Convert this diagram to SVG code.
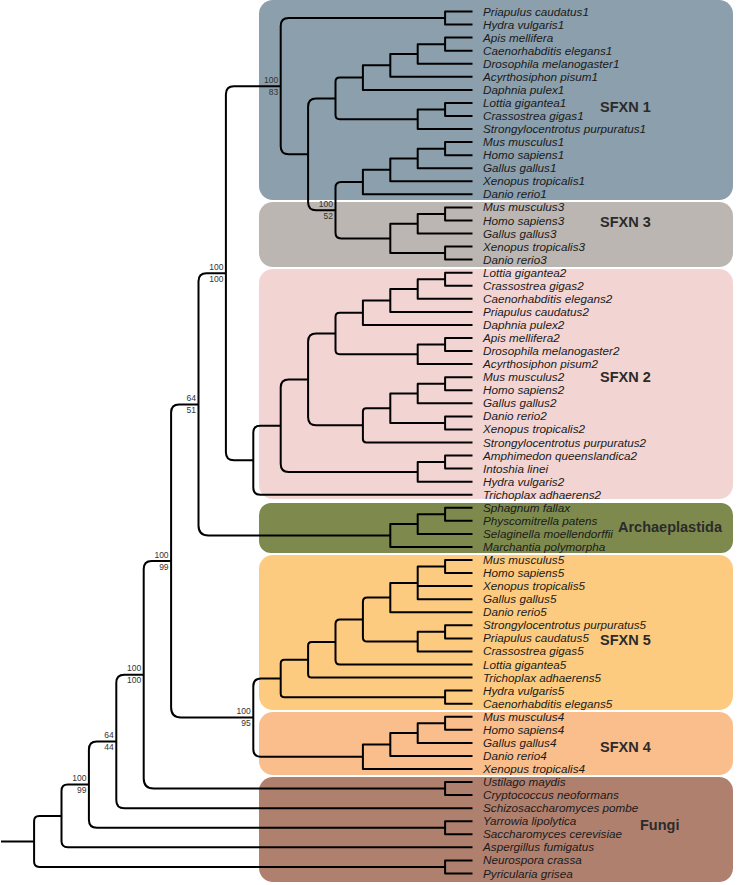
<svg xmlns="http://www.w3.org/2000/svg" width="742" height="885" viewBox="0 0 742 885">
<style>
.bx{stroke:none}
.br{fill:none;stroke:#000;stroke-width:2;stroke-linejoin:round}
.lf{font-family:"Liberation Sans",Arial,sans-serif;font-style:italic;font-size:11.7px;fill:#1a1a1a}
.bs{font-family:"Liberation Sans",Arial,sans-serif;font-size:8.5px;fill:#333;text-anchor:end}
.gl{font-family:"Liberation Sans",Arial,sans-serif;font-weight:bold;font-size:14.5px;fill:#2b2b2b}
</style>
<rect width="742" height="885" fill="#fff"/>
<g id="SFXN1">
<rect class="bx" x="259" y="0" width="474" height="200" rx="14" fill="#8b9fac"/>
<text class="gl" x="600" y="112">SFXN 1</text>
<text class="lf" x="483" y="15.5">Priapulus caudatus1</text>
<text class="lf" x="483" y="28.6">Hydra vulgaris1</text>
<text class="lf" x="483" y="41.6">Apis mellifera</text>
<text class="lf" x="483" y="54.7">Caenorhabditis elegans1</text>
<text class="lf" x="483" y="67.7">Drosophila melanogaster1</text>
<text class="lf" x="483" y="80.8">Acyrthosiphon pisum1</text>
<text class="lf" x="483" y="93.9">Daphnia pulex1</text>
<text class="lf" x="483" y="106.9">Lottia gigantea1</text>
<text class="lf" x="483" y="120">Crassostrea gigas1</text>
<text class="lf" x="483" y="133">Strongylocentrotus purpuratus1</text>
<text class="lf" x="483" y="146.1">Mus musculus1</text>
<text class="lf" x="483" y="159.2">Homo sapiens1</text>
<text class="lf" x="483" y="172.2">Gallus gallus1</text>
<text class="lf" x="483" y="185.3">Xenopus tropicalis1</text>
<text class="lf" x="483" y="198.3">Danio rerio1</text>
</g>
<g id="SFXN3">
<rect class="bx" x="259" y="202" width="474" height="65" rx="14" fill="#bcb6b2"/>
<text class="gl" x="600" y="227">SFXN 3</text>
<text class="lf" x="483" y="211.4">Mus musculus3</text>
<text class="lf" x="483" y="224.5">Homo sapiens3</text>
<text class="lf" x="483" y="237.5">Gallus gallus3</text>
<text class="lf" x="483" y="250.6">Xenopus tropicalis3</text>
<text class="lf" x="483" y="263.6">Danio rerio3</text>
</g>
<g id="SFXN2">
<rect class="bx" x="259" y="269" width="474" height="230" rx="14" fill="#f2d5d3"/>
<text class="gl" x="600" y="382">SFXN 2</text>
<text class="lf" x="483" y="276.7">Lottia gigantea2</text>
<text class="lf" x="483" y="289.8">Crassostrea gigas2</text>
<text class="lf" x="483" y="302.8">Caenorhabditis elegans2</text>
<text class="lf" x="483" y="315.9">Priapulus caudatus2</text>
<text class="lf" x="483" y="328.9">Daphnia pulex2</text>
<text class="lf" x="483" y="342">Apis mellifera2</text>
<text class="lf" x="483" y="355.1">Drosophila melanogaster2</text>
<text class="lf" x="483" y="368.1">Acyrthosiphon pisum2</text>
<text class="lf" x="483" y="381.2">Mus musculus2</text>
<text class="lf" x="483" y="394.2">Homo sapiens2</text>
<text class="lf" x="483" y="407.3">Gallus gallus2</text>
<text class="lf" x="483" y="420.4">Danio rerio2</text>
<text class="lf" x="483" y="433.4">Xenopus tropicalis2</text>
<text class="lf" x="483" y="446.5">Strongylocentrotus purpuratus2</text>
<text class="lf" x="483" y="459.5">Amphimedon queenslandica2</text>
<text class="lf" x="483" y="472.6">Intoshia linei</text>
<text class="lf" x="483" y="485.7">Hydra vulgaris2</text>
<text class="lf" x="483" y="498.7">Trichoplax adhaerens2</text>
</g>
<g id="Archaeplastida">
<rect class="bx" x="259" y="503" width="474" height="50" rx="12" fill="#7e8a4d"/>
<text class="gl" x="618" y="532">Archaeplastida</text>
<text class="lf" x="483" y="511.8">Sphagnum fallax</text>
<text class="lf" x="483" y="524.8">Physcomitrella patens</text>
<text class="lf" x="483" y="537.9">Selaginella moellendorffii</text>
<text class="lf" x="483" y="551">Marchantia polymorpha</text>
</g>
<g id="SFXN5">
<rect class="bx" x="259" y="555" width="474" height="155" rx="14" fill="#fdcb80"/>
<text class="gl" x="600" y="645">SFXN 5</text>
<text class="lf" x="483" y="564">Mus musculus5</text>
<text class="lf" x="483" y="577.1">Homo sapiens5</text>
<text class="lf" x="483" y="590.1">Xenopus tropicalis5</text>
<text class="lf" x="483" y="603.2">Gallus gallus5</text>
<text class="lf" x="483" y="616.3">Danio rerio5</text>
<text class="lf" x="483" y="629.3">Strongylocentrotus purpuratus5</text>
<text class="lf" x="483" y="642.4">Priapulus caudatus5</text>
<text class="lf" x="483" y="655.4">Crassostrea gigas5</text>
<text class="lf" x="483" y="668.5">Lottia gigantea5</text>
<text class="lf" x="483" y="681.6">Trichoplax adhaerens5</text>
<text class="lf" x="483" y="694.6">Hydra vulgaris5</text>
<text class="lf" x="483" y="707.7">Caenorhabditis elegans5</text>
</g>
<g id="SFXN4">
<rect class="bx" x="259" y="712" width="474" height="63" rx="14" fill="#f9be8b"/>
<text class="gl" x="600" y="752">SFXN 4</text>
<text class="lf" x="483" y="720.7">Mus musculus4</text>
<text class="lf" x="483" y="733.8">Homo sapiens4</text>
<text class="lf" x="483" y="746.9">Gallus gallus4</text>
<text class="lf" x="483" y="759.9">Danio rerio4</text>
<text class="lf" x="483" y="773">Xenopus tropicalis4</text>
</g>
<g id="Fungi">
<rect class="bx" x="259" y="777" width="474" height="105" rx="14" fill="#b0806f"/>
<text class="gl" x="640" y="830">Fungi</text>
<text class="lf" x="483" y="786">Ustilago maydis</text>
<text class="lf" x="483" y="799.1">Cryptococcus neoformans</text>
<text class="lf" x="483" y="812.2">Schizosaccharomyces pombe</text>
<text class="lf" x="483" y="825.2">Yarrowia lipolytica</text>
<text class="lf" x="483" y="838.3">Saccharomyces cerevisiae</text>
<text class="lf" x="483" y="851.3">Aspergillus fumigatus</text>
<text class="lf" x="483" y="864.4">Neurospora crassa</text>
<text class="lf" x="483" y="877.5">Pyricularia grisea</text>
</g>
<g id="connectors" class="br">
<path d="M472.5 11.5H445.1V24.6H472.5"/>
<path d="M472.5 37.6H445.1V50.7H472.5"/>
<path d="M445.1 44.15H417.7V63.7H472.5"/>
<path d="M417.7 53.9H390.3V76.8H472.5"/>
<path d="M390.3 65.35H362.9V89.9H472.5"/>
<path d="M472.5 102.9H445.1V116H472.5"/>
<path d="M445.1 109.45H417.7V129H472.5"/>
<path d="M362.9 77.6H339.7Q335.5 77.6 335.5 81.8V115Q335.5 119.2 339.7 119.2H417.7"/>
<path d="M472.5 142.1H445.1V155.2H472.5"/>
<path d="M445.1 148.65H417.7V168.2H472.5"/>
<path d="M417.7 158.4H390.3V181.3H472.5"/>
<path d="M390.3 169.85H362.9V194.3H472.5"/>
<path d="M472.5 207.4H445.1V220.5H472.5"/>
<path d="M445.1 213.95H417.7V233.5H472.5"/>
<path d="M472.5 246.6H445.1V259.6H472.5"/>
<path d="M417.7 223.7H390.3V253.1H445.1"/>
<path d="M362.9 182.1H341.1Q335.5 182.1 335.5 187.7V232.8Q335.5 238.4 341.1 238.4H390.3"/>
<path d="M335.5 98.4H316.1Q308.1 98.4 308.1 106.4V202.25Q308.1 210.25 316.1 210.25H335.5"/>
<path d="M445.1 18.05H288.7Q280.7 18.05 280.7 26.05V146.3Q280.7 154.3 288.7 154.3H308.1"/>
<path d="M472.5 272.7H445.1V285.8H472.5"/>
<path d="M445.1 279.25H417.7V298.8H472.5"/>
<path d="M417.7 289H390.3V311.9H472.5"/>
<path d="M390.3 300.45H362.9V324.9H472.5"/>
<path d="M472.5 338H445.1V351.1H472.5"/>
<path d="M445.1 344.55H417.7V364.1H472.5"/>
<path d="M362.9 312.7H339.7Q335.5 312.7 335.5 316.9V350.1Q335.5 354.3 339.7 354.3H417.7"/>
<path d="M472.5 377.2H445.1V390.2H472.5"/>
<path d="M445.1 383.7H417.7V403.3H472.5"/>
<path d="M472.5 416.4H445.1V429.4H472.5"/>
<path d="M417.7 393.5H390.3V422.9H445.1"/>
<path d="M390.3 408.2H366.3Q362.9 408.2 362.9 411.6V439.1Q362.9 442.5 366.3 442.5H472.5"/>
<path d="M335.5 333.5H316.1Q308.1 333.5 308.1 341.5V417.35Q308.1 425.35 316.1 425.35H362.9"/>
<path d="M472.5 455.5H445.1V468.6H472.5"/>
<path d="M445.1 462.05H417.7V481.7H472.5"/>
<path d="M308.1 379.4H288.7Q280.7 379.4 280.7 387.4V463.9Q280.7 471.9 288.7 471.9H417.7"/>
<path d="M280.7 425.65H260.2Q253.3 425.65 253.3 432.55V487.8Q253.3 494.7 260.2 494.7H472.5"/>
<path d="M280.7 86.2H233.9Q225.9 86.2 225.9 94.2V452.2Q225.9 460.2 233.9 460.2H253.3"/>
<path d="M472.5 507.8H445.1V520.8H472.5"/>
<path d="M445.1 514.3H417.7V533.9H472.5"/>
<path d="M417.7 524.1H390.3V547H472.5"/>
<path d="M225.9 273.2H206.5Q198.5 273.2 198.5 281.2V525.55Q198.5 535.55 208.5 535.55H390.3"/>
<path d="M472.5 560H445.1V573.1H472.5"/>
<path d="M445.1 566.55H417.7V599.2H472.5M417.7 586.1H472.5"/>
<path d="M417.7 582.9H390.3V612.3H472.5"/>
<path d="M472.5 625.3H445.1V638.4H472.5"/>
<path d="M445.1 631.85H417.7V651.4H472.5"/>
<path d="M390.3 597.6H367.3Q362.9 597.6 362.9 602V637.2Q362.9 641.6 367.3 641.6H417.7"/>
<path d="M362.9 619.6H340Q335.5 619.6 335.5 624.1V660Q335.5 664.5 340 664.5H472.5"/>
<path d="M335.5 642.05H311.65Q308.1 642.05 308.1 645.6V674.05Q308.1 677.6 311.65 677.6H472.5"/>
<path d="M472.5 690.6H445.1V703.7H472.5"/>
<path d="M308.1 659.8H284.4Q280.7 659.8 280.7 663.5V693.45Q280.7 697.15 284.4 697.15H445.1"/>
<path d="M472.5 716.7H445.1V729.8H472.5"/>
<path d="M445.1 723.25H417.7V742.9H472.5"/>
<path d="M417.7 733.1H390.3V755.9H472.5"/>
<path d="M390.3 744.5H362.9V769H472.5"/>
<path d="M280.7 678.5H261.1Q253.3 678.5 253.3 686.3V748.95Q253.3 756.75 261.1 756.75H362.9"/>
<path d="M198.5 404.4H179.1Q171.1 404.4 171.1 412.4V707.6Q171.1 717.6 181.1 717.6H253.3"/>
<path d="M472.5 782H445.1V795.1H472.5"/>
<path d="M171.1 561H151.7Q143.7 561 143.7 569V778.55Q143.7 788.55 153.7 788.55H445.1"/>
<path d="M143.7 674.8H124.3Q116.3 674.8 116.3 682.8V800.2Q116.3 808.2 124.3 808.2H472.5"/>
<path d="M472.5 821.2H445.1V834.3H472.5"/>
<path d="M116.3 741.5H96.9Q88.9 741.5 88.9 749.5V819.75Q88.9 827.75 96.9 827.75H445.1"/>
<path d="M88.9 784.6H67.8Q61.5 784.6 61.5 790.9V841Q61.5 847.3 67.8 847.3H472.5"/>
<path d="M472.5 860.4H445.1V873.5H472.5"/>
<path d="M61.5 815.95H39.2Q34.1 815.95 34.1 821.05V861.85Q34.1 866.95 39.2 866.95H445.1"/>
<path d="M1 841.45H34.1"/>
</g>
<g id="support">
<text class="bs" x="278.2" y="82.7">100</text><text class="bs" x="278.2" y="94.7">83</text>
<text class="bs" x="333" y="206.75">100</text><text class="bs" x="333" y="218.75">52</text>
<text class="bs" x="223.4" y="269.7">100</text><text class="bs" x="223.4" y="281.7">100</text>
<text class="bs" x="196" y="400.9">64</text><text class="bs" x="196" y="412.9">51</text>
<text class="bs" x="168.6" y="557.5">100</text><text class="bs" x="168.6" y="569.5">99</text>
<text class="bs" x="250.8" y="714.1">100</text><text class="bs" x="250.8" y="726.1">95</text>
<text class="bs" x="141.2" y="671.3">100</text><text class="bs" x="141.2" y="683.3">100</text>
<text class="bs" x="113.8" y="738">64</text><text class="bs" x="113.8" y="750">44</text>
<text class="bs" x="86.4" y="781.1">100</text><text class="bs" x="86.4" y="793.1">99</text>
</g>
</svg>
